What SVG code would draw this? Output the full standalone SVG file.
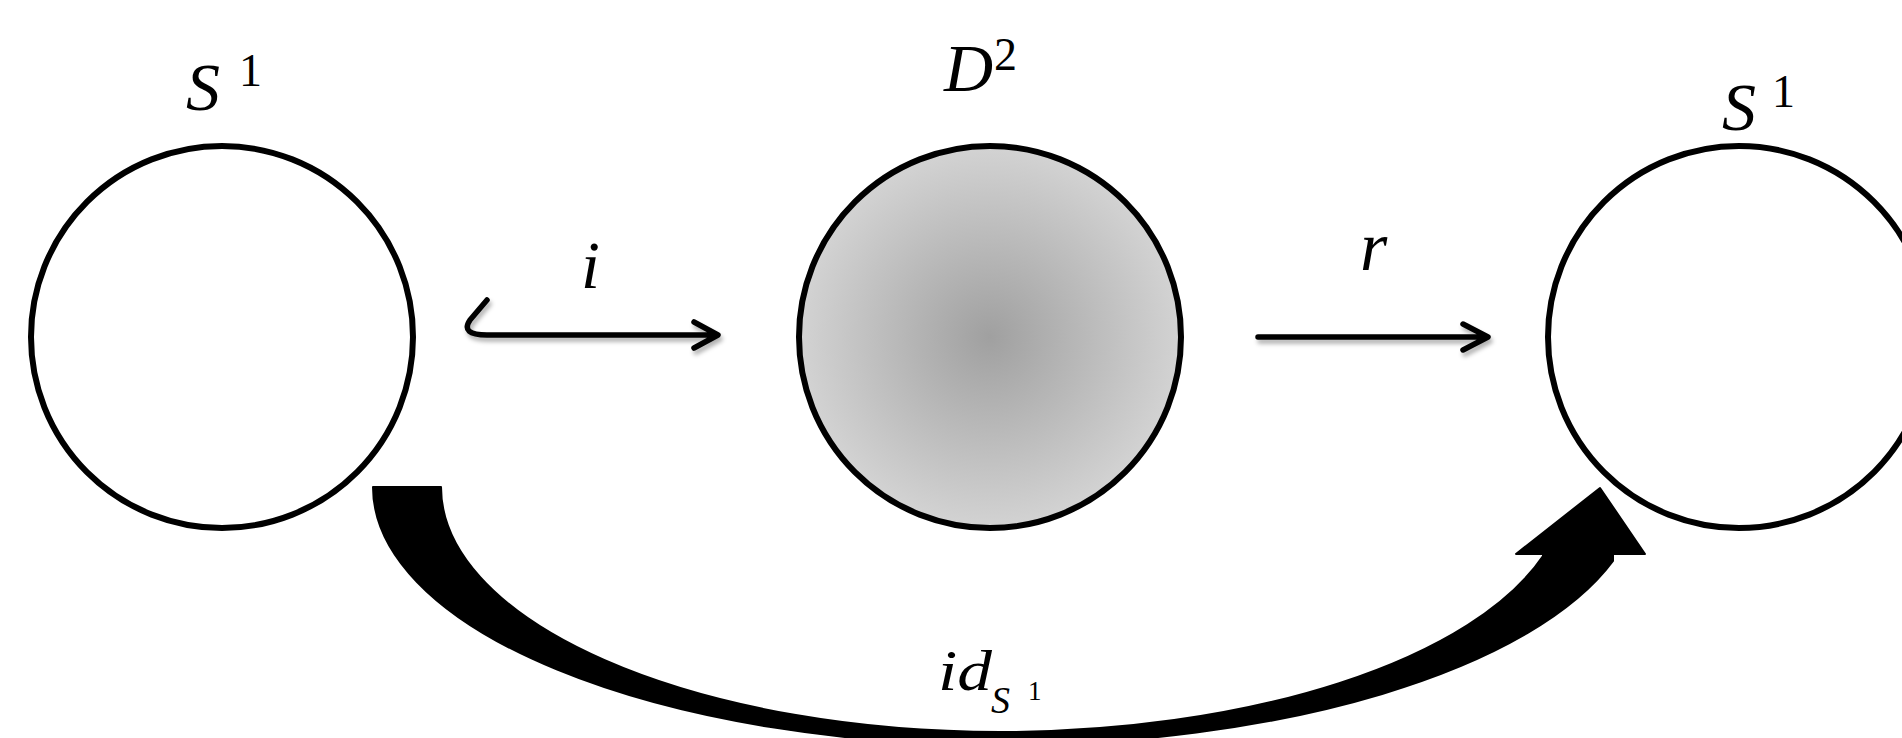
<svg xmlns="http://www.w3.org/2000/svg" width="1902" height="738" viewBox="0 0 1902 738">
  <style>
    .node { fill: #ffffff; stroke: #000000; stroke-width: 6; }
    .math { font-family: "Liberation Serif", "Times New Roman", serif; font-style: italic; fill: #000000; }
    .num { font-family: "Liberation Serif", "Times New Roman", serif; fill: #000000; }
    .thin { fill: none; stroke: #000000; stroke-width: 5.5; stroke-linecap: round; stroke-linejoin: round; }
  </style>
  <defs>
    <radialGradient id="diskFill" cx="0.5" cy="0.5" r="0.5">
      <stop offset="0" stop-color="#a0a0a0"/>
      <stop offset="1" stop-color="#d3d3d3"/>
    </radialGradient>
    <filter id="shadow" x="-10%" y="-50%" width="120%" height="250%">
      <feDropShadow dx="2" dy="4" stdDeviation="2" flood-color="#000000" flood-opacity="0.3"/>
    </filter>
  </defs>
  <rect x="0" y="0" width="1902" height="738" fill="#ffffff"/>

  <g id="node-s1-left">
    <circle class="node" cx="222" cy="337" r="191"/>
    <text class="math" x="186" y="110" font-size="68">S</text>
    <text class="num" x="239" y="86" font-size="46">1</text>
  </g>

  <g id="node-d2">
    <circle class="node" cx="990" cy="337" r="191" style="fill:url(#diskFill)"/>
    <text class="math" x="944" y="91" font-size="68">D</text>
    <text class="num" x="994" y="70" font-size="46">2</text>
  </g>

  <g id="node-s1-right">
    <circle class="node" cx="1739" cy="337" r="191"/>
    <text class="math" x="1722" y="130" font-size="68">S</text>
    <text class="num" x="1772" y="107" font-size="46">1</text>
  </g>

  <g id="connectors">
    <g id="edge-i">
      <path class="thin" filter="url(#shadow)" d="M 487 300 L 470 320 Q 460 335 487 335 L 716 335 M 694 322 L 718 335 L 694 348"/>
      <text class="math" x="581" y="288" font-size="68">i</text>
    </g>
    <g id="edge-r">
      <path class="thin" filter="url(#shadow)" d="M 1258 337 L 1486 337 M 1463 324 L 1488 337 L 1463 350"/>
      <text class="math" x="1360" y="270" font-size="70">r</text>
    </g>
    <g id="edge-id">
      <path fill="#000000" stroke="#000000" stroke-width="2" stroke-linejoin="round"
        d="M 373 487 A 627 258 0 0 0 1000 745 A 640 258 0 0 0 1613 561 L 1613 554 L 1645 554 L 1600 488 L 1516 554 L 1543 554 L 1543 556 A 566 245 0 0 1 1000 732 A 559 245 0 0 1 441 487 Z"/>
      <text class="math" x="938" y="690" font-size="58" textLength="54" lengthAdjust="spacingAndGlyphs">id</text>
      <text class="math" x="991" y="713" font-size="38">S</text>
      <text class="num" x="1028" y="700" font-size="27">1</text>
    </g>
  </g>
</svg>
